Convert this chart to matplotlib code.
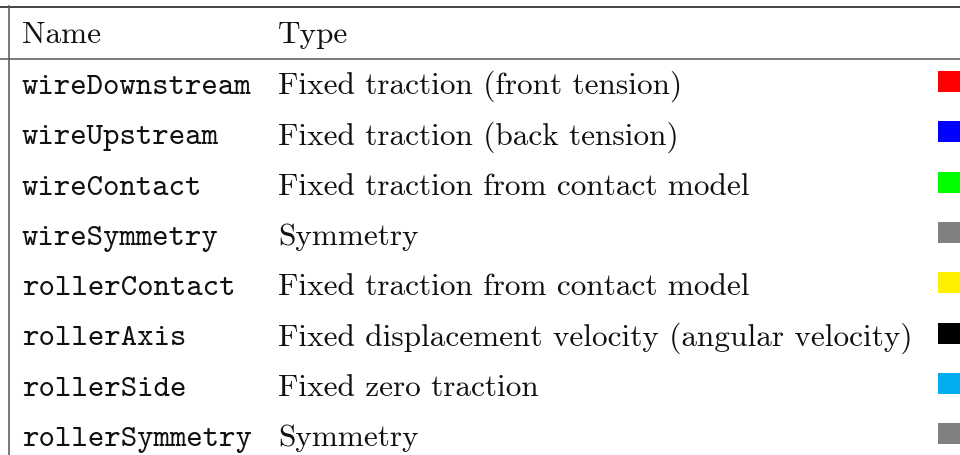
import matplotlib
matplotlib.use("Agg")
import matplotlib.pyplot as plt
from matplotlib.patches import Rectangle

headers = ["Name", "Type"]
names = ["wireDownstream", "wireUpstream", "wireContact", "wireSymmetry",
         "rollerContact", "rollerAxis", "rollerSide", "rollerSymmetry"]
types = ["Fixed traction (front tension)", "Fixed traction (back tension)",
         "Fixed traction from contact model", "Symmetry",
         "Fixed traction from contact model",
         "Fixed displacement velocity (angular velocity)",
         "Fixed zero traction", "Symmetry"]
colors = ["#FF0000", "#0000FF", "#00FF00", "#808080",
          "#FFF000", "#000000", "#00AEEF", "#808080"]

W, H = 960, 456
fig = plt.figure(figsize=(W / 100, H / 100), dpi=100)
ax = fig.add_axes([0, 0, 1, 1])
ax.set_xlim(0, W)
ax.set_ylim(H, 0)
ax.axis("off")

fs = 22.5
x_name, x_type, x_sq = 22, 278, 938
y_head = 43
y0, dy = 94, 50.3

ax.plot([0, W], [7.5, 7.5], color="#111111", lw=1.1)
ax.plot([0, W], [59.5, 59.5], color="#555555", lw=1.1)
ax.plot([8.5, 8.5], [7, H], color="#555555", lw=1.1)

ax.text(x_name, y_head, headers[0], family="cmr10", fontsize=fs, va="baseline", color="#111111")
ax.text(x_type, y_head, headers[1], family="cmr10", fontsize=fs, va="baseline", color="#111111")

for i, (n, t, c) in enumerate(zip(names, types, colors)):
    yb = y0 + i * dy
    ax.text(x_name, yb, n, family="cmtt10", fontsize=fs, va="baseline", color="#111111")
    ax.text(x_type, yb, t, family="cmr10", fontsize=fs, va="baseline", color="#111111")
    ax.add_patch(Rectangle((x_sq, yb - 22), 22, 21, facecolor=c, edgecolor="none"))

fig.savefig("out.png", dpi=100)
